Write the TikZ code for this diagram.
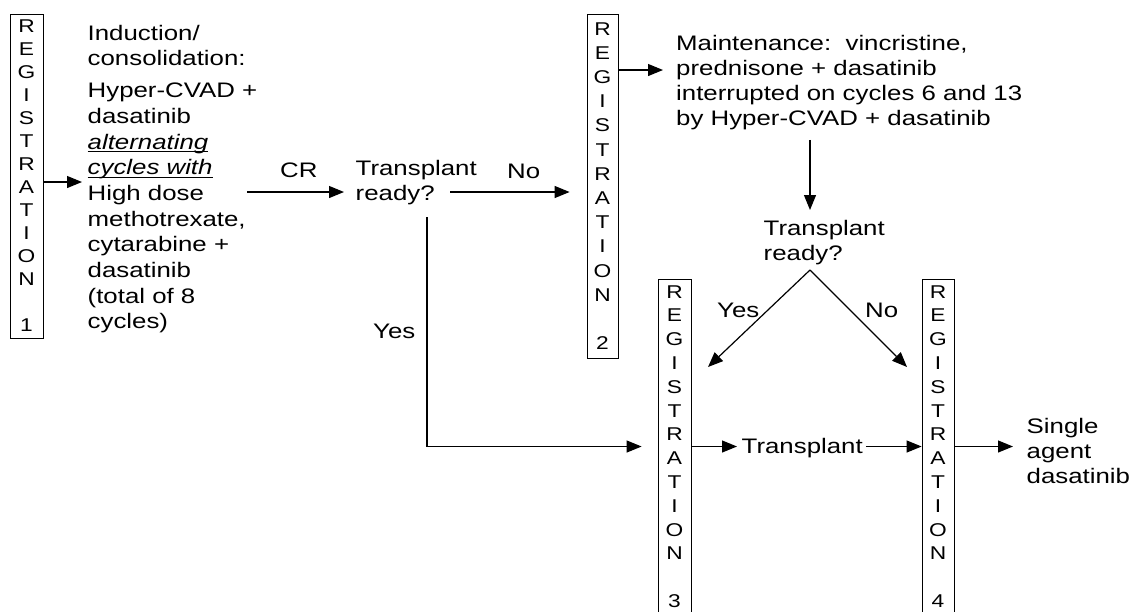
\documentclass[tikz,border=0pt]{standalone}
\usepackage{fontspec}
\setmainfont[FakeStretch=1.23]{Liberation Sans}
\usetikzlibrary{arrows.meta}
\newcommand\txtfont{\fontsize{21}{25}\selectfont}
\newcommand\indfont{\fontsize{21}{25.7}\selectfont}
\newcommand\regfont{\fontsize{18.5}{23}\selectfont}
\newcommand\regfontb{\fontsize{18.5}{24.2}\selectfont}
\newcommand\regfontc{\fontsize{18.5}{23.8}\selectfont}
\newcommand\Tst{\rule{0pt}{16pt}}
\newcommand\ulit[1]{\leavevmode\setbox0\hbox{\itshape #1}\rlap{\rule[-3.2pt]{\wd0}{1.1pt}}\box0}
\begin{document}
\begin{tikzpicture}[x=1pt,y=-1pt,
 regbox/.style={draw, line width=0.8pt, inner sep=0pt, align=center},
 txt/.style={inner sep=0pt, align=left, anchor=north west, font=\txtfont},
 lbl/.style={inner sep=0pt, anchor=base west, font=\txtfont},
 arr/.style={line width=1.2pt, -{Triangle[length=15pt,width=12pt]}}]
\useasboundingbox (0,0) rectangle (1133,611);

% registration boxes
\node[regbox, minimum width=33pt, minimum height=324pt, font=\regfont] (r1) at (26.5,176) {R\\E\\G\\I\\S\\T\\R\\A\\T\\I\\O\\N\\[\baselineskip]1};
\node[regbox, minimum width=31pt, minimum height=344pt, font=\regfontb] (r2) at (602.5,186) {R\\E\\G\\I\\S\\T\\R\\A\\T\\I\\O\\N\\[\baselineskip]2};
\node[regbox, minimum width=33pt, minimum height=335pt, font=\regfontc] (r3) at (674.5,446.5) {R\\E\\G\\I\\S\\T\\R\\A\\T\\I\\O\\N\\[\baselineskip]3};
\node[regbox, minimum width=32pt, minimum height=335pt, font=\regfontc] (r4) at (938,446.5) {R\\E\\G\\I\\S\\T\\R\\A\\T\\I\\O\\N\\[\baselineskip]4};

% text blocks
\node[txt, font=\indfont] (ind) at (87.5,24) {\Tst Induction/\\consolidation:\\[6pt]Hyper-CVAD +\\dasatinib\\\ulit{alternating}\\\ulit{cycles with}\\High dose\\methotrexate,\\cytarabine +\\dasatinib\\(total of 8\\cycles)};
\node[txt] (tr1) at (355.5,159) {\Tst Transplant\\ready?};
\node[txt] (mt) at (676,34) {\Tst Maintenance:~~vincristine,\\prednisone + dasatinib\\interrupted on cycles 6 and 13\\by Hyper-CVAD + dasatinib};
\node[txt] (tr2) at (763.5,219) {\Tst Transplant\\ready?};
\node[txt] (sg) at (1026.5,417) {\Tst Single\\agent\\dasatinib};

% labels
\node[lbl] (cr) at (280,177) {CR};
\node[lbl] (no1) at (507,178) {No};
\node[lbl] (yes1) at (373,338) {Yes};
\node[lbl] (yes2) at (717,317) {Yes};
\node[lbl] (no2) at (865,317) {No};
\node[lbl] (tp) at (741.5,453) {Transplant};

% helper coordinates
\coordinate (crs) at (247,192);
\coordinate (nos) at (450,192);
\coordinate (ys) at (427,217);
\coordinate (apex) at (810,270);
\coordinate (ytip) at (708,367);
\coordinate (ntip) at (907,367);
\coordinate (a1) at (0,182);
\coordinate (a2) at (0,70);
\coordinate (dx) at (810,0);

% connectors
\draw[arr, shorten >=5.5pt] (r1.east |- a1) -- (ind.west |- a1);
\draw[arr, shorten >=11.5pt] (crs) -- (crs -| tr1.west);
\draw[arr, shorten >=17pt] (nos) -- (nos -| r2.west);
\draw[arr, shorten >=16pt] (ys) |- (r3.west);
\draw[arr, shorten >=13pt] (r2.east |- a2) -- (mt.west |- a2);
\draw[arr, shorten <=10pt, shorten >=9pt] (dx |- mt.south) -- (dx |- tr2.north);
\draw[arr] (apex) -- (ytip);
\draw[arr] (apex) -- (ntip);
\draw[arr, shorten >=4.5pt] (r3.east) -- (tp.west |- r3.east);
\draw[arr, shorten <=3pt] (tp.east |- r4.west) -- (r4.west);
\draw[arr, shorten >=13.5pt] (r4.east) -- (r4.east -| sg.west);
\end{tikzpicture}
\end{document}
